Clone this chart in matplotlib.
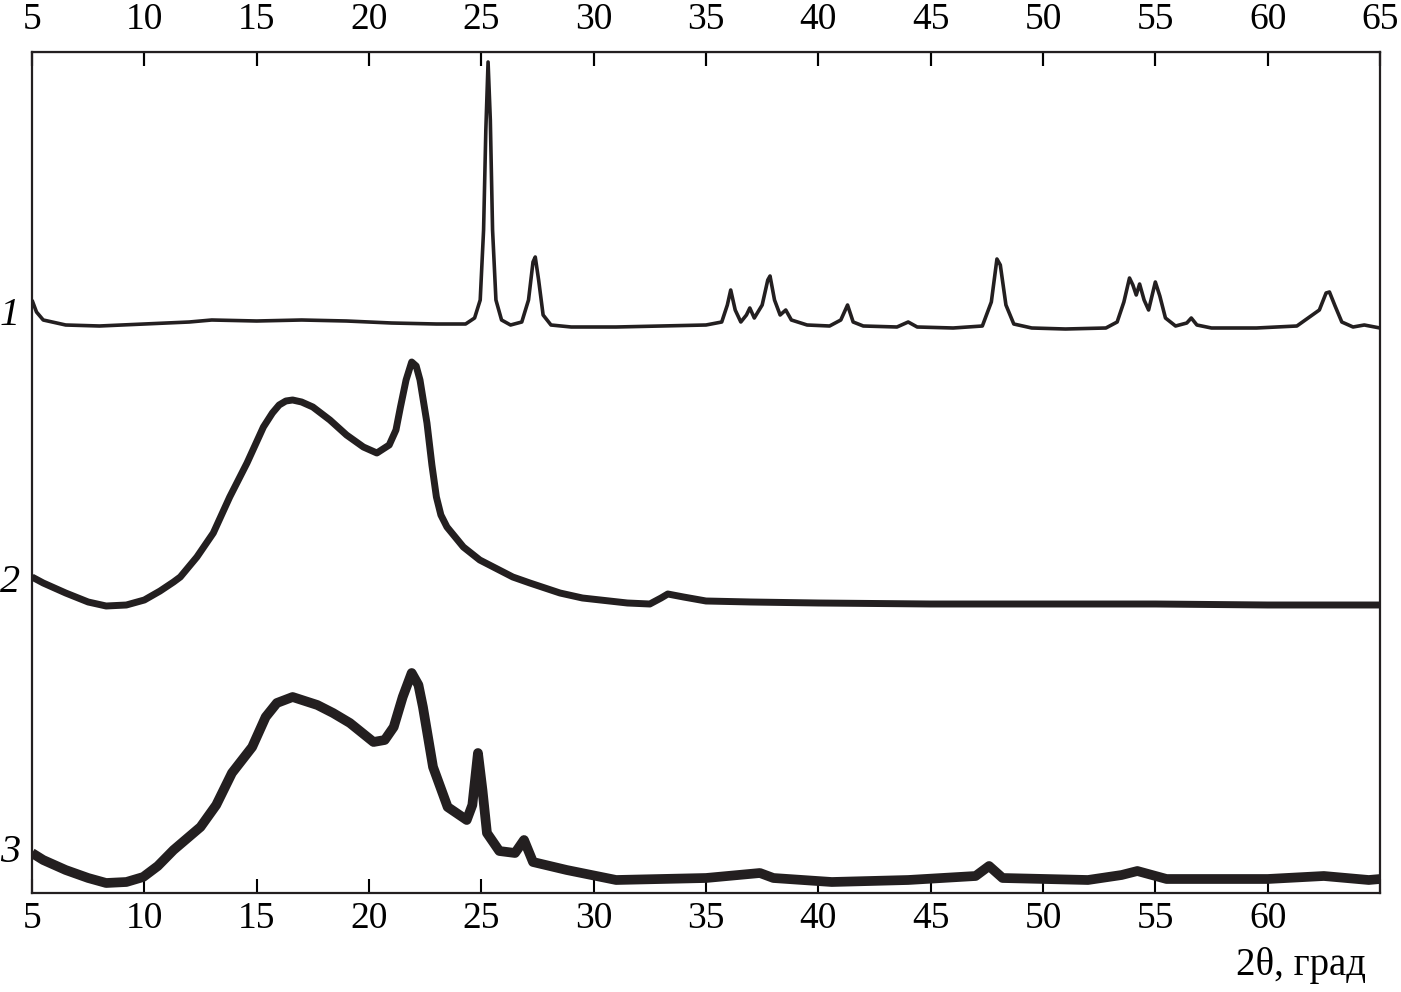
import matplotlib.pyplot as plt

# XRD patterns (y in plot units, baseline-stacked)
tt1 = [5.0, 5.2, 5.5, 6.5, 8, 10, 12, 13, 15, 17, 19, 21, 23, 24.3, 24.7, 24.95,
       25.1, 25.2, 25.3, 25.4, 25.5, 25.65, 25.9, 26.3, 26.8, 27.1, 27.3, 27.4,
       27.55, 27.75, 28.1, 29, 31, 33, 35, 35.7, 35.95, 36.1, 36.3, 36.55, 36.8,
       36.95, 37.15, 37.5, 37.75, 37.85, 38.05, 38.3, 38.55, 38.8, 39.5, 40.5,
       41.0, 41.3, 41.55, 42, 43.5, 44.0, 44.4, 46, 47.3, 47.7, 47.95, 48.1,
       48.35, 48.7, 49.5, 51, 52.8, 53.3, 53.6, 53.85, 54.0, 54.15, 54.3, 54.5,
       54.7, 54.85, 55.0, 55.2, 55.45, 55.9, 56.4, 56.6, 56.85, 57.5, 59.5,
       61.3, 61.8, 62.3, 62.6, 62.75, 63.0, 63.3, 63.8, 64.3, 65]
px1 = [300, 312, 320, 325, 326, 324, 322, 320, 321, 320, 321, 323, 324, 324, 318, 300,
       230, 130, 62, 120, 230, 300, 320, 325, 322, 300, 262, 257,
       280, 315, 325, 327, 327, 326, 325, 322, 305, 290, 310, 322, 315,
       308, 318, 305, 280, 276, 300, 315, 310, 320, 325, 326,
       320, 305, 322, 326, 327, 322, 327, 328, 326, 302, 259, 265,
       305, 324, 328, 329, 328, 322, 302, 278, 285, 295, 284, 300,
       310, 296, 282, 296, 318, 326, 323, 318, 325, 328, 328,
       326, 318, 310, 293, 292, 306, 322, 327, 325, 328]

tt2 = [5.0, 5.5, 6.5, 7.5, 8.3, 9.2, 10.0, 10.7, 11.3, 11.6, 12.34, 13.07, 13.8,
       14.57, 15.3, 15.7, 16.0, 16.3, 16.6, 17.0, 17.5, 18.26, 19.0, 19.75,
       20.35, 20.9, 21.2, 21.4, 21.65, 21.9, 22.1, 22.27, 22.58, 22.8, 23.0,
       23.2, 23.47, 24.2, 24.93, 26.4, 27.16, 28.5, 29.5, 31.5, 32.5, 33.0,
       33.3, 34.0, 35.0, 37, 40, 45, 50, 55, 60, 65]
px2 = [577, 583, 593, 602, 606, 605, 600, 591, 582, 577, 557, 533, 497,
       463, 427, 413, 405, 401, 400, 402, 407, 420, 435, 447,
       453, 445, 430, 407, 380, 362, 366, 380, 423, 465, 497,
       515, 527, 547, 560, 577, 583, 593, 598, 603, 604, 598,
       594, 597, 601, 602, 603, 604, 604, 604, 605, 605]

tt3 = [5.0, 5.5, 6.5, 7.5, 8.3, 9.2, 9.95, 10.6, 11.3, 12.5, 13.2, 13.9, 14.8,
       15.4, 15.9, 16.6, 17.7, 18.4, 19.15, 20.2, 20.7, 21.1, 21.5, 21.9, 22.2,
       22.4, 22.85, 23.5, 24.35, 24.6, 24.85, 25.05, 25.25, 25.8, 26.5, 26.9,
       27.3, 28.8, 31, 35, 37.4, 38, 40.6, 44, 47.0, 47.6, 48.2, 52, 53.5, 54.2,
       55.5, 60, 62.5, 64.5, 65]
px3 = [853, 860, 870, 878, 883, 882, 877, 866, 850, 827, 805, 773, 747,
       717, 703, 697, 705, 713, 723, 742, 740, 727, 697, 673, 685,
       707, 767, 807, 820, 805, 753, 790, 833, 851, 853, 840,
       862, 870, 880, 878, 873, 878, 882, 880, 876, 866, 878, 880, 875, 871,
       879, 879, 876, 880, 879]

labels = ['1', '2', '3']
label_rows = [315, 583, 853]

curves = [(tt1, px1), (tt2, px2), (tt3, px3)]
widths = [2.6, 5.0, 7.0]

TOP = 893  # pixel row of the lower frame edge in the reference
ticks = list(range(5, 70, 5))

plt.rcParams['font.family'] = ['Liberation Serif', 'DejaVu Serif']

fig = plt.figure(figsize=(14.01, 9.92), dpi=100)
ax = fig.add_axes([32 / 1401, 99 / 992, 1348 / 1401, 841 / 992])

for (t, p), lw in zip(curves, widths):
    y = [TOP - v for v in p]
    ax.plot(t, y, color='#231f20', lw=lw, solid_joinstyle='round',
            solid_capstyle='butt')

for lab, row in zip(labels, label_rows):
    ax.text(-0.009, TOP - row, lab, transform=ax.get_yaxis_transform(),
            fontsize=29, fontstyle='italic', ha='right', va='center')

ax.set_xlim(5, 65)
ax.set_ylim(0, 841)
ax.set_yticks([])
ax.set_xticks(ticks)
ax.set_xticklabels([str(t) for t in ticks[:-1]] + [''])
ax.tick_params(axis='x', direction='in', length=10, width=1.5, labelsize=27,
               pad=6, top=True, labeltop=False)

ax2 = ax.secondary_xaxis('top')
ax2.set_xticks(ticks)
ax2.tick_params(direction='in', length=10, width=1.5, labelsize=27, pad=11)

for s in ax.spines.values():
    s.set_linewidth(1.6)
    s.set_color('#231f20')

fig.text(1366 / 1401, 1 - 965 / 992, '2θ, град', fontsize=28, ha='right',
         va='center')

fig.savefig('out.png', dpi=100)
